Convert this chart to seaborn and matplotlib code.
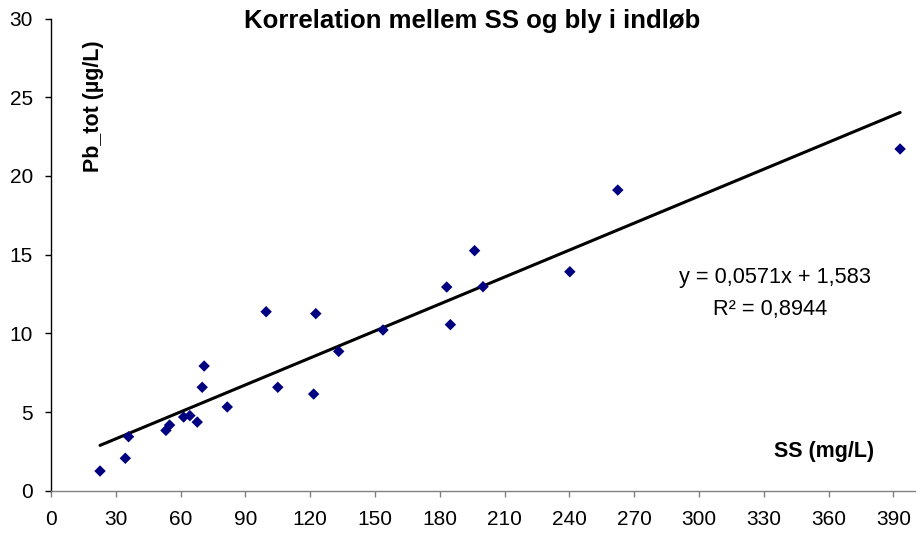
import matplotlib
matplotlib.use("Agg")
import matplotlib.pyplot as plt
import seaborn as sns
import numpy as np
import pandas as pd

# ---- data ----
ss_mg_l = [22.7, 34.4, 35.9, 53.2, 54.9, 61.4, 64.3, 67.7, 70.0, 70.9, 81.6, 99.6,
           105.0, 121.6, 122.6, 133.2, 153.7, 183.2, 184.9, 196.1, 200.0, 240.2, 262.4, 393.1]
pb_ug_l = [1.25, 2.06, 3.43, 3.83, 4.17, 4.68, 4.77, 4.36, 6.57, 7.92, 5.32, 11.37,
           6.57, 6.14, 11.25, 8.85, 10.21, 12.94, 10.55, 15.25, 12.96, 13.91, 19.1, 21.71]
trend_slope = 0.0571
trend_intercept = 1.583
x_ticks = list(range(0, 391, 30))
y_ticks = [0, 5, 10, 15, 20, 25, 30]
title = "Korrelation mellem SS og bly i indløb"
xlabel = "SS (mg/L)"
ylabel = "Pb_tot (µg/L)"
eq_line1 = "y = 0,0571x + 1,583"
eq_line2 = "R² = 0,8944"

sns.set_style("white")
plt.rcParams["font.family"] = ["Liberation Sans", "DejaVu Sans"]
plt.rcParams["text.color"] = "black"
plt.rcParams["axes.labelcolor"] = "black"
plt.rcParams["xtick.color"] = "black"
plt.rcParams["ytick.color"] = "black"

W, H = 923, 535
fig = plt.figure(figsize=(W / 100, H / 100), dpi=100)
ax = fig.add_axes([51 / W, 1 - 490.7 / H, (915 - 51) / W, (490.7 - 18.5) / H])

df = pd.DataFrame({"ss": ss_mg_l, "pb": pb_ug_l})
line_x = [min(ss_mg_l), max(ss_mg_l)]
line_df = pd.DataFrame({"x": line_x,
                        "y": [trend_slope * v + trend_intercept for v in line_x]})

sns.lineplot(data=line_df, x="x", y="y", ax=ax, color="black", linewidth=2.2, zorder=2)
sns.scatterplot(data=df, x="ss", y="pb", ax=ax, marker="D", s=34, color="#000080",
                edgecolor="none", linewidth=0, zorder=3)

ax.set_xlim(0, 400)
ax.set_ylim(0, 30)
ax.set_xticks(x_ticks)
ax.set_yticks(y_ticks)
ax.set_xticklabels([str(t) for t in x_ticks])
ax.set_yticklabels([str(t) for t in y_ticks])
ax.set_xlabel("")
ax.set_ylabel("")

for s in ["top", "right"]:
    ax.spines[s].set_visible(False)
ax.spines["left"].set_color("black")
ax.spines["left"].set_linewidth(1.0)
ax.spines["bottom"].set_color("#808080")
ax.spines["bottom"].set_linewidth(1.0)

ax.tick_params(axis="x", direction="out", length=4, width=1, color="#808080",
               labelsize=15, pad=10, labelcolor="black", bottom=True)
ax.tick_params(axis="y", direction="out", length=4, width=1, color="black",
               labelsize=15, pad=9, labelcolor="black", left=True)

fig.text(472 / W, 1 - 28.3 / H, title, ha="center", va="baseline",
         fontsize=18.5, fontweight="bold", color="black")
fig.text(824 / W, 1 - 456.7 / H, xlabel, ha="center", va="baseline",
         fontsize=15.5, fontweight="bold", color="black")
fig.text(93 / W, 1 - 106 / H, ylabel, ha="center", va="center", rotation=90,
         fontsize=15.5, fontweight="bold", color="black")
fig.text(775 / W, 1 - 283.3 / H, eq_line1, ha="center", va="baseline",
         fontsize=15.7, color="black")
fig.text(770.5 / W, 1 - 315 / H, eq_line2, ha="center", va="baseline",
         fontsize=15.7, color="black")

fig.savefig("out.png", dpi=100, facecolor="white")
